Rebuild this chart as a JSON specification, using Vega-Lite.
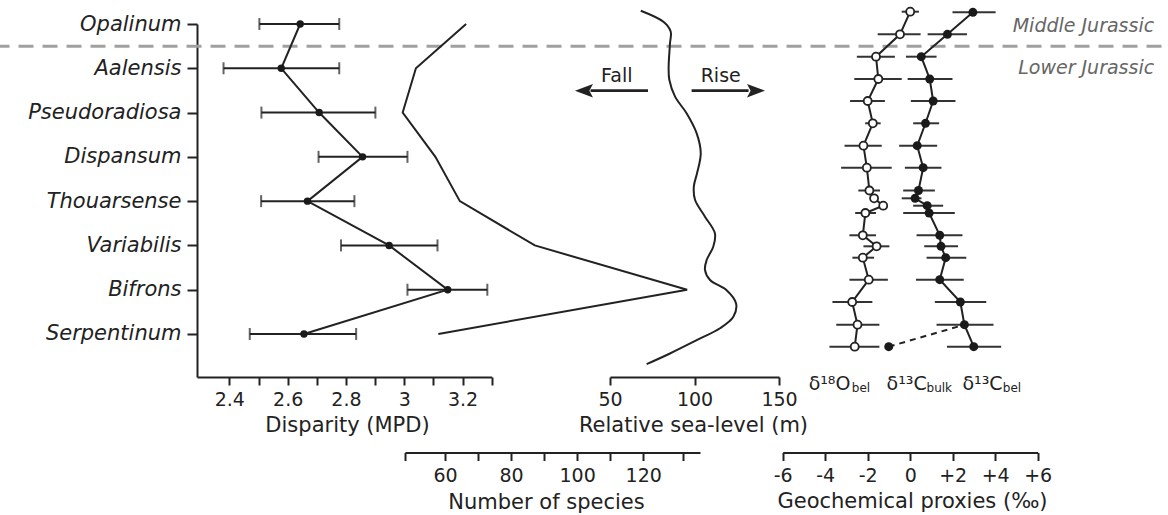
{
  "$schema": "https://vega.github.io/schema/vega-lite/v6.json",
  "width": 1168,
  "height": 515,
  "autosize": {"type": "none"},
  "padding": 0,
  "background": "white",
  "config": {
    "view": {"stroke": null},
    "font": "DejaVu Sans",
    "axis": {
      "domainColor": "#222", "domainWidth": 2, "tickColor": "#222", "tickWidth": 2, "tickSize": 8,
      "labelColor": "#222", "labelFont": "DejaVu Sans", "labelFontSize": 19,
      "titleFont": "DejaVu Sans", "titleFontSize": 21, "titleFontWeight": "normal", "titleColor": "#222",
      "grid": false, "labelBaseline": "alphabetic", "labelPadding": 20.5, "titleBaseline": "alphabetic",
      "labelFlush": false, "labelOverlap": false
    },
    "text": {"font": "DejaVu Sans", "color": "#222"}
  },
  "datasets": {
    "disp": [
      {"z": 0, "m": 2.643, "lo": 2.503, "hi": 2.777},
      {"z": 1, "m": 2.578, "lo": 2.38, "hi": 2.777},
      {"z": 2, "m": 2.708, "lo": 2.51, "hi": 2.901},
      {"z": 3, "m": 2.857, "lo": 2.706, "hi": 3.011},
      {"z": 4, "m": 2.668, "lo": 2.509, "hi": 2.829},
      {"z": 5, "m": 2.948, "lo": 2.783, "hi": 3.114},
      {"z": 6, "m": 3.149, "lo": 3.011, "hi": 3.285},
      {"z": 7, "m": 2.656, "lo": 2.47, "hi": 2.835}
    ],
    "species": [
      {"z": 0, "n": 66.4}, {"z": 1, "n": 51.2}, {"z": 2, "n": 47.2}, {"z": 3, "n": 57.1},
      {"z": 4, "n": 64.5}, {"z": 5, "n": 87.2}, {"z": 6, "n": 133.3}, {"z": 7, "n": 58.0}
    ],
    "sea": [
      {"z": -0.30, "s": 68.2}, {"z": -0.05, "s": 81.6}, {"z": 0.17, "s": 85.9}, {"z": 0.44, "s": 85.5},
      {"z": 0.96, "s": 84.7}, {"z": 1.26, "s": 85.1}, {"z": 1.64, "s": 88.5}, {"z": 2.02, "s": 95.4},
      {"z": 2.47, "s": 101.3}, {"z": 2.92, "s": 103.7}, {"z": 3.37, "s": 101.5}, {"z": 3.67, "s": 99.6},
      {"z": 3.97, "s": 100.3}, {"z": 4.35, "s": 106.2}, {"z": 4.73, "s": 112.1}, {"z": 5.03, "s": 111.1},
      {"z": 5.33, "s": 107.2}, {"z": 5.55, "s": 106.2}, {"z": 5.78, "s": 109.2}, {"z": 6.01, "s": 119.0},
      {"z": 6.31, "s": 124.6}, {"z": 6.61, "s": 123.0}, {"z": 6.87, "s": 115.1}, {"z": 7.14, "s": 101.3},
      {"z": 7.44, "s": 85.5}, {"z": 7.68, "s": 71.7}
    ],
    "o18": [
      {"z": -0.278, "v": 0.0, "lo": -0.40, "hi": 0.41},
      {"z": 0.233, "v": -0.48, "lo": -1.53, "hi": 0.49},
      {"z": 0.738, "v": -1.61, "lo": -2.51, "hi": -0.72},
      {"z": 1.242, "v": -1.50, "lo": -2.63, "hi": -0.40},
      {"z": 1.739, "v": -2.00, "lo": -2.83, "hi": -1.19},
      {"z": 2.242, "v": -1.76, "lo": -2.12, "hi": -1.39},
      {"z": 2.748, "v": -2.20, "lo": -3.09, "hi": -1.34},
      {"z": 3.245, "v": -2.04, "lo": -3.25, "hi": -0.87},
      {"z": 3.76, "v": -1.92, "lo": -2.44, "hi": -1.42},
      {"z": 3.936, "v": -1.70},
      {"z": 4.103, "v": -1.27},
      {"z": 4.268, "v": -2.11, "lo": -2.59, "hi": -1.61},
      {"z": 4.771, "v": -2.23, "lo": -2.86, "hi": -1.61},
      {"z": 5.02, "v": -1.58, "lo": -2.20, "hi": -0.98},
      {"z": 5.277, "v": -2.23, "lo": -2.72, "hi": -1.70},
      {"z": 5.774, "v": -1.95, "lo": -2.86, "hi": -1.05},
      {"z": 6.278, "v": -2.73, "lo": -3.66, "hi": -1.78},
      {"z": 6.79, "v": -2.48, "lo": -3.48, "hi": -1.45},
      {"z": 7.287, "v": -2.61, "lo": -3.80, "hi": -1.45}
    ],
    "c13": [
      {"z": -0.264, "v": 2.95, "lo": 1.99, "hi": 4.02},
      {"z": 0.233, "v": 1.75, "lo": 0.82, "hi": 2.67},
      {"z": 0.738, "v": 0.52, "lo": -0.20, "hi": 1.24},
      {"z": 1.242, "v": 0.92, "lo": -0.12, "hi": 1.99},
      {"z": 1.739, "v": 1.08, "lo": 0.03, "hi": 2.13},
      {"z": 2.242, "v": 0.72, "lo": 0.14, "hi": 1.36},
      {"z": 2.748, "v": 0.33, "lo": -0.52, "hi": 1.27},
      {"z": 3.245, "v": 0.61, "lo": -0.25, "hi": 1.47},
      {"z": 3.76, "v": 0.39, "lo": -0.33, "hi": 1.16},
      {"z": 3.936, "v": 0.23, "lo": -0.40, "hi": 0.53},
      {"z": 4.103, "v": 0.80, "lo": 0.14, "hi": 1.55},
      {"z": 4.268, "v": 0.89, "lo": -0.33, "hi": 2.10},
      {"z": 4.771, "v": 1.39, "lo": 0.30, "hi": 2.46},
      {"z": 5.02, "v": 1.45, "lo": 0.66, "hi": 2.25},
      {"z": 5.277, "v": 1.67, "lo": 0.77, "hi": 2.64},
      {"z": 5.774, "v": 1.39, "lo": 0.27, "hi": 2.52},
      {"z": 6.278, "v": 2.36, "lo": 1.16, "hi": 3.58},
      {"z": 6.79, "v": 2.55, "lo": 1.24, "hi": 3.92},
      {"z": 7.287, "v": 2.99, "lo": 1.73, "hi": 4.28}
    ],
    "bulk": [{"z": 7.287, "v": -1.01}],
    "bulklink": [{"z": 7.287, "v": -1.01}, {"z": 6.79, "v": 2.55}],
    "glab": [
      {"v": -4.78, "z": 8.26, "t": "δ¹⁸O"},
      {"v": -1.11, "z": 8.26, "t": "δ¹³C"},
      {"v": 2.46, "z": 8.26, "t": "δ¹³C"}
    ],
    "gsub": [
      {"v": -2.75, "z": 8.32, "t": "bel"},
      {"v": 0.77, "z": 8.32, "t": "bulk"},
      {"v": 4.36, "z": 8.32, "t": "bel"}
    ],
    "periods": [
      {"v": 11.48, "z": 0.174, "t": "Middle Jurassic"},
      {"v": 11.48, "z": 1.129, "t": "Lower Jurassic"}
    ],
    "fallrise": [
      {"s": 54, "z": 1.30, "t": "Fall"},
      {"s": 115.5, "z": 1.30, "t": "Rise"}
    ],
    "arrowshafts": [
      {"z": 1.506, "a": 72.5, "b": 38.5},
      {"z": 1.506, "a": 98.3, "b": 132.0}
    ],
    "leftHead": [{"z": 1.506, "s": 34.6}],
    "rightHead": [{"z": 1.506, "s": 136.4}]
  },
  "resolve": {"scale": {"x": "independent"}, "axis": {"x": "independent"}},
  "encoding": {
    "y": {"field": "z", "type": "quantitative", "scale": {"domain": [0, 7.971], "range": [24, 377], "nice": false, "zero": false},
      "axis": {"orient": "left", "offset": -197, "values": [0, 1, 2, 3, 4, 5, 6, 7],
        "labelExpr": "['Opalinum','Aalensis','Pseudoradiosa','Dispansum','Thouarsense','Variabilis','Bifrons','Serpentinum'][datum.value]",
        "labelFontStyle": "italic", "labelFontSize": 21, "labelBaseline": "middle", "labelPadding": 6, "tickSize": 10, "title": null}}
  },
  "layer": [
    {
      "data": {"values": [{"z": 0.5}]},
      "mark": {"type": "rule", "color": "#a0a0a0", "strokeWidth": 3, "strokeDash": [15, 9], "strokeDashOffset": 17.5},
      "encoding": {}
    },
    {
      "data": {"name": "disp"},
      "mark": {"type": "rule", "strokeWidth": 2, "color": "#222"},
      "encoding": {
        "x": {"field": "lo", "type": "quantitative", "scale": {"domain": [2.289, 3.3], "range": [197, 491.7], "nice": false, "zero": false},
          "axis": {"orient": "bottom", "offset": -138, "values": [2.4, 2.5, 2.6, 2.7, 2.8, 2.9, 3.0, 3.1, 3.2, 3.3],
            "labelExpr": "round(datum.value*10)%2==0 ? '' + datum.value : ''", "title": "Disparity (MPD)", "titleX": 347, "titleY": 54}},
        "x2": {"field": "hi"}
      }
    },
    {
      "data": {"name": "disp"},
      "mark": {"type": "tick", "orient": "vertical", "size": 12, "thickness": 2, "color": "#222"},
      "encoding": {
        "x": {"field": "lo", "type": "quantitative", "scale": {"domain": [2.289, 3.3], "range": [197, 491.7], "nice": false, "zero": false}, "axis": null}
      }
    },
    {
      "data": {"name": "disp"},
      "mark": {"type": "tick", "orient": "vertical", "size": 12, "thickness": 2, "color": "#222"},
      "encoding": {
        "x": {"field": "hi", "type": "quantitative", "scale": {"domain": [2.289, 3.3], "range": [197, 491.7], "nice": false, "zero": false}, "axis": null}
      }
    },
    {
      "data": {"name": "disp"},
      "mark": {"type": "line", "strokeWidth": 2, "color": "#222"},
      "encoding": {
        "x": {"field": "m", "type": "quantitative", "scale": {"domain": [2.289, 3.3], "range": [197, 491.7], "nice": false, "zero": false}, "axis": null},
        "order": {"field": "z", "type": "quantitative"}
      }
    },
    {
      "data": {"name": "disp"},
      "mark": {"type": "circle", "size": 55, "color": "#1a1a1a", "opacity": 1},
      "encoding": {
        "x": {"field": "m", "type": "quantitative", "scale": {"domain": [2.289, 3.3], "range": [197, 491.7], "nice": false, "zero": false}, "axis": null}
      }
    },
    {
      "data": {"name": "species"},
      "mark": {"type": "line", "strokeWidth": 2, "color": "#222"},
      "encoding": {
        "x": {"field": "n", "type": "quantitative", "scale": {"domain": [47.9, 137.2], "range": [405, 700], "nice": false, "zero": false},
          "axis": {"orient": "bottom", "offset": -62.5, "values": [47.9, 60, 70, 80, 90, 100, 110, 120, 132.1],
            "labelExpr": "datum.value==60||datum.value==80||datum.value==100||datum.value==120 ? '' + datum.value : ''",
            "title": "Number of species", "titleX": 546, "titleY": 55.5}},
        "order": {"field": "z", "type": "quantitative"}
      }
    },
    {
      "data": {"name": "sea"},
      "mark": {"type": "line", "strokeWidth": 2, "color": "#222", "interpolate": "catmull-rom"},
      "encoding": {
        "x": {"field": "s", "type": "quantitative", "scale": {"domain": [50, 150], "range": [610, 779], "nice": false, "zero": false},
          "axis": {"orient": "bottom", "offset": -138, "values": [50, 100, 150], "title": "Relative sea-level (m)", "titleX": 693, "titleY": 54}},
        "order": {"field": "z", "type": "quantitative"}
      }
    },
    {
      "data": {"name": "fallrise"},
      "mark": {"type": "text", "align": "center", "baseline": "alphabetic", "fontSize": 19, "color": "#222"},
      "encoding": {
        "x": {"field": "s", "type": "quantitative", "scale": {"domain": [50, 150], "range": [610, 779], "nice": false, "zero": false}, "axis": null},
        "text": {"field": "t"}
      }
    },
    {
      "data": {"name": "arrowshafts"},
      "mark": {"type": "rule", "strokeWidth": 2.7, "color": "#222"},
      "encoding": {
        "x": {"field": "a", "type": "quantitative", "scale": {"domain": [50, 150], "range": [610, 779], "nice": false, "zero": false}, "axis": null},
        "x2": {"field": "b"}
      }
    },
    {
      "data": {"name": "leftHead"},
      "mark": {"type": "point", "shape": "M-1,0L1,-0.75L0.6,0L1,0.75Z", "filled": true, "size": 324, "color": "#222", "opacity": 1},
      "encoding": {
        "x": {"field": "s", "type": "quantitative", "scale": {"domain": [50, 150], "range": [610, 779], "nice": false, "zero": false}, "axis": null}
      }
    },
    {
      "data": {"name": "rightHead"},
      "mark": {"type": "point", "shape": "M1,0L-1,-0.75L-0.6,0L-1,0.75Z", "filled": true, "size": 324, "color": "#222", "opacity": 1},
      "encoding": {
        "x": {"field": "s", "type": "quantitative", "scale": {"domain": [50, 150], "range": [610, 779], "nice": false, "zero": false}, "axis": null}
      }
    },
    {
      "data": {"name": "o18"},
      "mark": {"type": "rule", "strokeWidth": 2, "color": "#333"},
      "encoding": {
        "x": {"field": "lo", "type": "quantitative", "scale": {"domain": [-6, 6], "range": [782.7, 1037.7], "nice": false, "zero": false},
          "axis": {"orient": "bottom", "offset": -62.5, "values": [-6, -4, -2, 0, 2, 4, 6],
            "labelExpr": "datum.value > 0 ? '+' + datum.value : '' + datum.value",
            "title": "Geochemical proxies (‰)", "titleX": 912, "titleY": 54.5}},
        "x2": {"field": "hi"}
      }
    },
    {
      "data": {"name": "c13"},
      "mark": {"type": "rule", "strokeWidth": 2, "color": "#333"},
      "encoding": {
        "x": {"field": "lo", "type": "quantitative", "scale": {"domain": [-6, 6], "range": [782.7, 1037.7], "nice": false, "zero": false}, "axis": null},
        "x2": {"field": "hi"}
      }
    },
    {
      "data": {"name": "o18"},
      "mark": {"type": "line", "strokeWidth": 2, "color": "#222"},
      "encoding": {
        "x": {"field": "v", "type": "quantitative", "scale": {"domain": [-6, 6], "range": [782.7, 1037.7], "nice": false, "zero": false}, "axis": null},
        "order": {"field": "z", "type": "quantitative"}
      }
    },
    {
      "data": {"name": "c13"},
      "mark": {"type": "line", "strokeWidth": 2, "color": "#222"},
      "encoding": {
        "x": {"field": "v", "type": "quantitative", "scale": {"domain": [-6, 6], "range": [782.7, 1037.7], "nice": false, "zero": false}, "axis": null},
        "order": {"field": "z", "type": "quantitative"}
      }
    },
    {
      "data": {"name": "bulklink"},
      "mark": {"type": "line", "strokeWidth": 2, "color": "#222", "strokeDash": [6, 5]},
      "encoding": {
        "x": {"field": "v", "type": "quantitative", "scale": {"domain": [-6, 6], "range": [782.7, 1037.7], "nice": false, "zero": false}, "axis": null}
      }
    },
    {
      "data": {"name": "o18"},
      "mark": {"type": "point", "filled": true, "fill": "white", "stroke": "#222", "strokeWidth": 1.8, "size": 64, "opacity": 1},
      "encoding": {
        "x": {"field": "v", "type": "quantitative", "scale": {"domain": [-6, 6], "range": [782.7, 1037.7], "nice": false, "zero": false}, "axis": null}
      }
    },
    {
      "data": {"name": "c13"},
      "mark": {"type": "circle", "size": 80, "color": "#1a1a1a", "opacity": 1},
      "encoding": {
        "x": {"field": "v", "type": "quantitative", "scale": {"domain": [-6, 6], "range": [782.7, 1037.7], "nice": false, "zero": false}, "axis": null}
      }
    },
    {
      "data": {"name": "bulk"},
      "mark": {"type": "circle", "size": 80, "color": "#1a1a1a", "opacity": 1},
      "encoding": {
        "x": {"field": "v", "type": "quantitative", "scale": {"domain": [-6, 6], "range": [782.7, 1037.7], "nice": false, "zero": false}, "axis": null}
      }
    },
    {
      "data": {"name": "glab"},
      "mark": {"type": "text", "align": "left", "baseline": "alphabetic", "fontSize": 19, "color": "#222"},
      "encoding": {
        "x": {"field": "v", "type": "quantitative", "scale": {"domain": [-6, 6], "range": [782.7, 1037.7], "nice": false, "zero": false}, "axis": null},
        "text": {"field": "t"}
      }
    },
    {
      "data": {"name": "gsub"},
      "mark": {"type": "text", "align": "left", "baseline": "alphabetic", "fontSize": 12, "color": "#222"},
      "encoding": {
        "x": {"field": "v", "type": "quantitative", "scale": {"domain": [-6, 6], "range": [782.7, 1037.7], "nice": false, "zero": false}, "axis": null},
        "text": {"field": "t"}
      }
    },
    {
      "data": {"name": "periods"},
      "mark": {"type": "text", "align": "right", "baseline": "alphabetic", "fontSize": 19, "fontStyle": "italic", "color": "#666"},
      "encoding": {
        "x": {"field": "v", "type": "quantitative", "scale": {"domain": [-6, 6], "range": [782.7, 1037.7], "nice": false, "zero": false}, "axis": null},
        "text": {"field": "t"}
      }
    }
  ]
}
